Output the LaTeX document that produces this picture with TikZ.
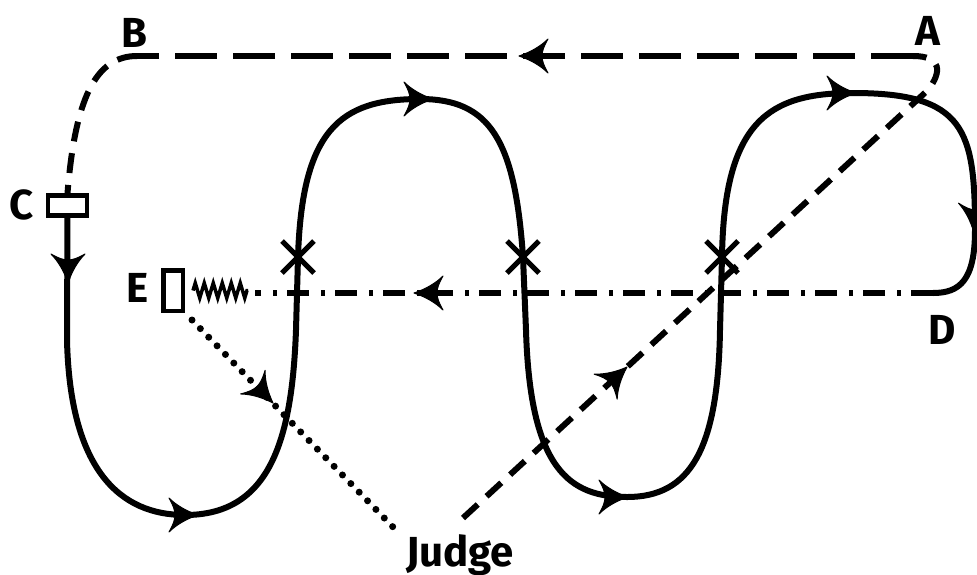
\documentclass[tikz,border=0pt]{standalone}
\usepackage{fontspec}
\setmainfont{Fira Sans}
\usetikzlibrary{decorations.pathmorphing}
\begin{document}
\begin{tikzpicture}[x=1pt,y=-1pt,
  lbl/.style={font=\bfseries\fontsize{42}{42}\selectfont, inner sep=0pt},
  boxst/.style={draw, line width=4.5pt, inner sep=0pt},
  track/.style={line width=6pt},
  dashA/.style={line width=6pt, dash pattern=on 20pt off 12pt},
  dashB/.style={line width=6pt, dash pattern=on 42pt off 16pt},
  dashdotst/.style={line width=5.5pt, dash pattern=on 22pt off 10pt on 4pt off 12pt},
  dotst/.style={line width=7pt, line cap=round, dash pattern=on 0pt off 12pt},
  xmark/.style={line width=5pt},
  springst/.style={line width=3.5pt, decorate, decoration={zigzag, segment length=9pt, amplitude=7.5pt}},
  ahead/.pic={\filldraw[line width=1pt, line join=round, solid]
      (0,0) .. controls (-12,-4) and (-22,-10) .. (-29,-17)
      .. controls (-25,-10) and (-23,-5) .. (-23,0)
      .. controls (-23,5) and (-25,10) .. (-29,17)
      .. controls (-22,10) and (-12,4) .. (0,0) -- cycle;}]
\useasboundingbox (0,0) rectangle (977,574);

% labels
\node[lbl] (lB) at (134,33) {B};
\node[lbl] (lA) at (928,31) {A};
\node[lbl] (lC) at (22,205) {C};
\node[lbl] (lE) at (138,288) {E};
\node[lbl] (lD) at (942,330) {D};
\node[lbl, anchor=base] (judge) at (460,566) {Judge};

% boxes
\node[boxst, minimum width=39pt, minimum height=20pt] (cbox) at (67.5,205.5) {};
\node[boxst, minimum width=19.5pt, minimum height=40.5pt] (ebox) at (173,290.5) {};

% key coordinates
\coordinate (jR) at (463,518);
\coordinate (jL) at (393,527);
\coordinate (x1) at (298,257);
\coordinate (x2) at (523,257);
\coordinate (x3) at (722,257);
\coordinate (dcorner) at (933,293);
\coordinate (springend) at (248,290.5);
\coordinate (ddend) at (255,293);

% solid track
\draw[track] (cbox.south) -- (67,340)
  .. controls (70,470) and (120,515) .. (185,515)
  .. controls (270,515) and (292,440) .. (296,330)
  -- (x1)
  .. controls (302,130) and (340,99) .. (420,99)
  .. controls (490,99) and (515,140) .. (x2)
  -- (526,330)
  .. controls (530,470) and (570,497) .. (627,497)
  .. controls (690,497) and (718,450) .. (720,330)
  -- (x3)
  .. controls (724,120) and (770,93) .. (853,93)
  .. controls (965,93) and (975,130) .. (975,230)
  .. controls (975,280) and (960,293) .. (dcorner);

% dashed track from Judge via A and B to C
\draw[dashA] (jR) -- (928,90) .. controls (942,72) and (942,56) .. (913,56);
\draw[dashB] (913,56) -- (137,56);
\draw[dashA] (137,56) .. controls (95,56) and (75,100) .. (cbox.north);

% dash-dot line D to E
\draw[dashdotst] (dcorner) -- (ddend);

% spring
\draw[springst] ([xshift=8pt]ebox.east) -- (springend);

% dotted line E to Judge
\draw[dotst] (ebox.south east) ++(7,7) -- (jL);

% crosses
\foreach \p in {x1,x2,x3}{
  \draw[xmark] (\p) ++(-16,-16) -- ++(32,32);
  \draw[xmark] (\p) ++(-16,16) -- ++(32,-32);
}

% arrowheads
\pic[rotate=-90] at (68,283) {ahead};
\pic at (198,515) {ahead};
\pic at (433,99) {ahead};
\pic at (628,497) {ahead};
\pic at (856,93) {ahead};
\pic[rotate=-93] at (974,233) {ahead};
\pic[rotate=180] at (519,56) {ahead};
\pic[rotate=42.6] at (627,367) {ahead};
\pic[rotate=180] at (414,293) {ahead};
\pic[rotate=-46] at (273,403) {ahead};
\end{tikzpicture}
\end{document}
